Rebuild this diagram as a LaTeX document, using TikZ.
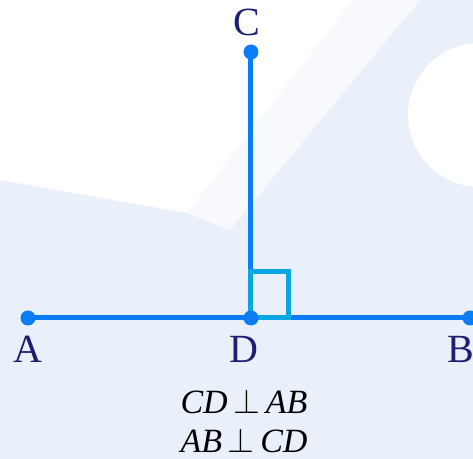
\documentclass[tikz,border=0pt]{standalone}
\usepackage{fontspec}
\setmainfont{Liberation Serif}
\usepackage{xcolor}
\usetikzlibrary{positioning}
\definecolor{geoblue}{HTML}{0A7DF4}
\definecolor{geocyan}{HTML}{0AA6E2}
\definecolor{geolabel}{HTML}{1E1E72}
\definecolor{geobg}{HTML}{EAF0FA}
\tikzset{
  seg/.style={
    draw=geoblue,
    line width=2.5pt
  },
  dot/.style={
    circle,
    fill=geoblue,
    inner sep=0pt,
    minimum size=7.5pt
  },
  rightangle/.style={
    draw=geocyan,
    line width=2.5pt
  },
  ptlabel/.style={
    font=\fontsize{20}{22}\selectfont,
    text=geolabel,
    inner sep=0pt
  },
  relation/.style={
    font=\fontsize{17}{19.5}\selectfont\itshape,
    align=center,
    inner sep=0pt
  }
}

\begin{document}
\begin{tikzpicture}[x=0.5pt,y=-0.5pt]
\useasboundingbox (0,0) rectangle (473,459);

% background
\begin{scope}
  \clip (0,0) rectangle (473,459);
  \fill[geobg] (0,0) rectangle (473,459);
  \fill[white] (0,0) -- (353,0) -- (187,213) -- (0,180) -- cycle;
  \fill[white!60!geobg] (353,0) -- (420,0) -- (230,230) -- (187,213) -- cycle;
  \fill[white] (480,115) circle (72);
\end{scope}

\coordinate (A) at (28,318);
\coordinate (B) at (470,318);
\coordinate (C) at (251,52);
\coordinate (D) at (251,318);

\draw[seg] (A) -- (B);
\draw[seg] (D) -- (C);
\draw[rightangle] (D) rectangle ++(38,-46);

\node[dot] (dA) at (A) {};
\node[dot] (dB) at (B) {};
\node[dot] (dC) at (C) {};
\node[dot] (dD) at (D) {};

\node[ptlabel, above=4pt of dC, xshift=-2pt] (labC) {C};
\node[ptlabel, below=5pt of dA] (labA) {A};
\node[ptlabel, below=5pt of dD, xshift=-3.5pt] (labD) {D};
\node[ptlabel, below=5pt of dB, xshift=-4.5pt] (labB) {B};

\node[relation, below=13pt of labD] (rel) {CD\,$\perp$\,AB\\AB\,$\perp$\,CD};

\end{tikzpicture}
\end{document}
